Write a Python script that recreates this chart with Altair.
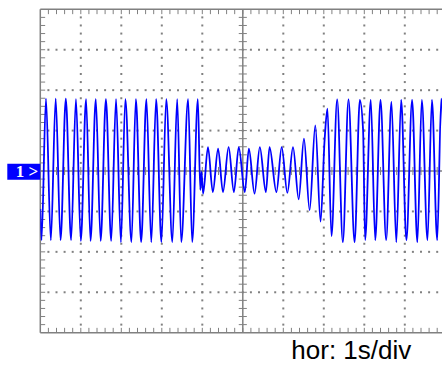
import altair as alt
import pandas as pd

# ---- signal: time (s) and level (divisions) at peaks / troughs ----
t_vals = [0.00, 0.03, 0.14, 0.26, 0.38, 0.50, 0.63, 0.76, 0.88, 1.00,
          1.13, 1.24, 1.37, 1.49, 1.62, 1.75, 1.87, 1.99, 2.10, 2.25,
          2.36, 2.49, 2.62, 2.74, 2.86, 2.99, 3.11, 3.26, 3.38, 3.48,
          3.65, 3.75, 3.89, 3.95, 3.98, 4.02, 4.14, 4.26, 4.39, 4.51,
          4.65, 4.78, 4.90, 5.05, 5.15, 5.29, 5.42, 5.57, 5.66, 5.83,
          5.96, 6.10, 6.24, 6.38, 6.51, 6.65, 6.79, 6.92, 7.02, 7.09,
          7.19, 7.33, 7.47, 7.61, 7.76, 7.89, 7.97, 8.02, 8.16, 8.27,
          8.40, 8.54, 8.67, 8.79, 8.91, 9.04, 9.18, 9.31, 9.42, 9.56,
          9.67, 9.80, 9.90, 9.98]
v_vals = [-0.94, -1.71, 1.79, -1.71, 1.79, -1.71, 1.79, -1.71, 1.78, -1.73,
          1.78, -1.73, 1.78, -1.73, 1.78, -1.73, 1.78, -1.76, 1.78, -1.76,
          1.78, -1.76, 1.78, -1.76, 1.78, -1.76, 1.78, -1.76, 1.78, -1.76,
          1.78, -1.76, 1.78, -0.47, -0.02, -0.56, 0.59, -0.52, 0.55, -0.52,
          0.59, -0.52, 0.59, -0.52, 0.55, -0.56, 0.59, -0.52, 0.59, -0.52,
          0.59, -0.54, 0.59, -0.70, 0.80, -0.97, 1.13, -1.25, 0.77, 1.54,
          -1.61, 1.77, -1.76, 1.77, -1.76, 1.76, 1.01, -1.71, 1.76, -1.71,
          1.76, -1.71, 1.71, -1.76, 1.76, -1.71, 1.76, -1.76, 1.76, -1.71,
          1.76, -1.71, 1.79, -0.72]
assert len(t_vals) == len(v_vals)

label_text = "hor: 1s/div"
marker_text = "1 >"

# ---- screen geometry (divisions) ----
X_DIVS = 10
Y_DIVS = 8
SUB = 5            # minor ticks per division
PX_PER_DIV = 40.5
PLOT_W = 401.7     # visible part of the screen (right edge cut by the window)
X_MAX = PLOT_W / PX_PER_DIV

GRID = "#808080"
TRACE = "#0000ff"

xs = alt.Scale(domain=[0, X_MAX], nice=False, zero=False)
ys = alt.Scale(domain=[-Y_DIVS / 2, Y_DIVS / 2], nice=False, zero=False)

step = 1.0 / SUB
xminor = [round(i * step, 3) for i in range(1, X_DIVS * SUB)]
yminor = [round(-Y_DIVS / 2 + k * step, 3) for k in range(1, Y_DIVS * SUB)]

# dotted graticule
dots = []
for gx in range(1, X_DIVS):
    if gx == X_DIVS // 2:
        continue
    for yy in yminor:
        dots.append({"x": gx, "y": yy})
for gy in range(-Y_DIVS // 2 + 1, Y_DIVS // 2):
    if gy == 0:
        continue
    for xx in xminor:
        dots.append({"x": xx, "y": gy})
dots_df = pd.DataFrame(dots)

# tick segments
segs = []
cx = X_DIVS / 2
for xx in xminor:
    segs.append({"x": xx, "x2": xx, "y": -0.1, "y2": 0.1})          # on centre horizontal
    segs.append({"x": xx, "x2": xx, "y": 4.0, "y2": 3.88})          # top border
    segs.append({"x": xx, "x2": xx, "y": -4.0, "y2": -3.88})        # bottom border
for yy in yminor:
    segs.append({"x": cx - 0.1, "x2": cx + 0.1, "y": yy, "y2": yy})  # on centre vertical
    segs.append({"x": 0.0, "x2": 0.12, "y": yy, "y2": yy})            # left border
segs_df = pd.DataFrame(segs)

lines_df = pd.DataFrame([
    {"x": 0, "x2": X_MAX, "y": 0, "y2": 0},       # centre horizontal
    {"x": cx, "x2": cx, "y": -4, "y2": 4},        # centre vertical
    {"x": 0, "x2": X_MAX, "y": 4, "y2": 4},       # top border
    {"x": 0, "x2": X_MAX, "y": -4, "y2": -4},     # bottom border
    {"x": 0, "x2": 0, "y": -4, "y2": 4},          # left border
])

trace_df = pd.DataFrame({"t": t_vals, "v": v_vals})
one = pd.DataFrame({"a": [0]})

dots_layer = alt.Chart(dots_df).mark_square(size=4, color=GRID, opacity=1).encode(
    x=alt.X("x:Q", scale=xs, axis=None),
    y=alt.Y("y:Q", scale=ys, axis=None),
)

lines_layer = alt.Chart(lines_df).mark_rule(color=GRID, strokeWidth=1.5).encode(
    x=alt.X("x:Q", scale=xs, axis=None), x2="x2:Q",
    y=alt.Y("y:Q", scale=ys, axis=None), y2="y2:Q",
)

ticks_layer = alt.Chart(segs_df).mark_rule(color=GRID, strokeWidth=1).encode(
    x=alt.X("x:Q", scale=xs, axis=None), x2="x2:Q",
    y=alt.Y("y:Q", scale=ys, axis=None), y2="y2:Q",
)

trace_layer = alt.Chart(trace_df).mark_line(
    color=TRACE, strokeWidth=1.8, interpolate="monotone", clip=True
).encode(
    x=alt.X("t:Q", scale=xs, axis=None),
    y=alt.Y("v:Q", scale=ys, axis=None),
    order="t:Q",
)

marker_box = alt.Chart(one).mark_rect(color=TRACE).encode(
    x=alt.value(-33), x2=alt.value(0), y=alt.value(154.5), y2=alt.value(170.5)
)
marker_lbl = alt.Chart(one).mark_text(
    text=marker_text, color="white", font="Liberation Serif", fontSize=17,
    fontWeight="bold", align="right", baseline="middle"
).encode(x=alt.value(-2), y=alt.value(163))

hor_lbl = alt.Chart(one).mark_text(
    text=label_text, color="black", font="Liberation Sans", fontSize=26,
    align="left", baseline="alphabetic"
).encode(x=alt.value(251), y=alt.value(349.3))

chart = alt.layer(
    dots_layer, lines_layer, ticks_layer, trace_layer, marker_box, marker_lbl, hor_lbl
).properties(
    width=PLOT_W, height=323.4,
    padding={"left": 40.3, "top": 9.3, "right": 0, "bottom": 32.3},
    autosize=alt.AutoSizeParams(type="none"),
).configure_view(strokeWidth=0)

chart.save("out.html", embed_options={"renderer": "svg", "actions": False})
